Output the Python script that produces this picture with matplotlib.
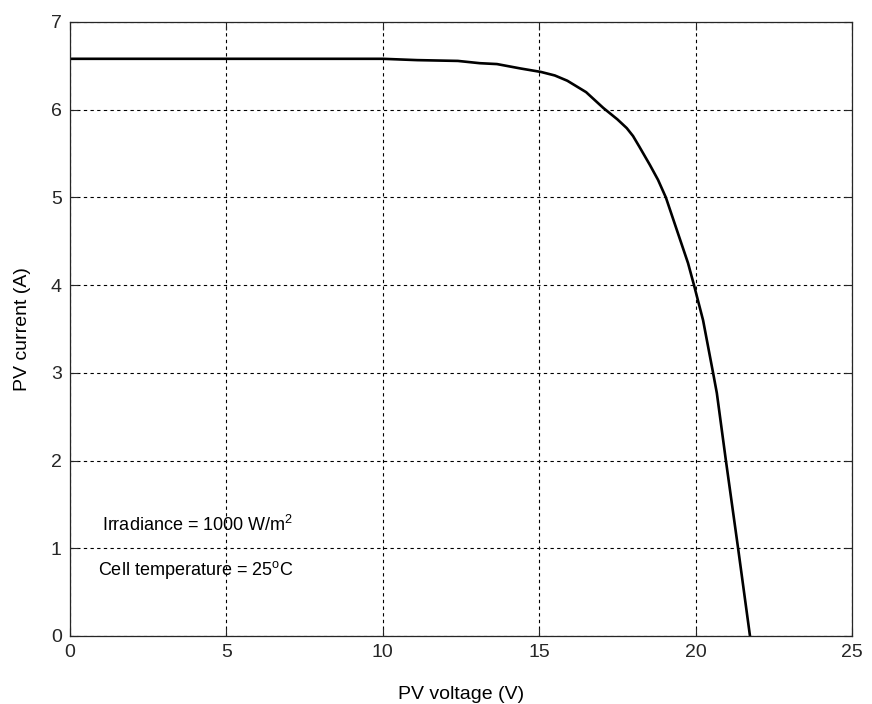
import matplotlib
matplotlib.use("Agg")
import matplotlib.pyplot as plt

# I-V curve
pv_voltage = [0, 5, 10, 11.1, 12.4, 13.1, 13.65, 14.4, 15.06, 15.5, 15.9, 16.5, 17.05,
              17.5, 17.8, 18.0, 18.2, 18.54, 18.8, 19.05, 19.4, 19.76, 19.95, 20.24,
              20.56, 20.68, 20.97, 21.36, 21.74]
pv_current = [6.58, 6.58, 6.58, 6.565, 6.556, 6.53, 6.52, 6.47, 6.43, 6.39, 6.33, 6.20, 6.02,
              5.89, 5.79, 5.70, 5.58, 5.37, 5.20, 5.0, 4.63, 4.25, 4.0, 3.60,
              3.0, 2.77, 2.0, 1.0, 0.0]

x_ticks = [0, 5, 10, 15, 20, 25]
y_ticks = [0, 1, 2, 3, 4, 5, 6, 7]

plt.rcParams['font.family'] = ['Liberation Sans', 'DejaVu Sans']

fig = plt.figure(figsize=(8.72, 7.04), dpi=100)
ax = fig.add_axes([0.0803, 0.0966, 0.8967, 0.8722])

ax.plot(pv_voltage, pv_current, color='black', linewidth=1.9)

ax.set_xlim(0, 25)
ax.set_ylim(0, 7)
ax.set_xticks(x_ticks)
ax.set_yticks(y_ticks)
ax.grid(True, color='black', linestyle=(0, (3, 3)), linewidth=0.8)
ax.tick_params(direction='in', length=6, top=True, right=True,
               labelsize=14, colors='#262626', pad=6)
for s in ax.spines.values():
    s.set_color('#262626')
    s.set_linewidth(0.9)

ax.set_xlabel('PV voltage (V)', fontsize=14, labelpad=18)
ax.set_ylabel('PV current (A)', fontsize=14, labelpad=14)

ax.text(1.02, 1.27, r'Irradiance = 1000 W/m$^{\mathregular{2}}$', fontsize=13,
        va='center', ha='left')
ax.text(0.9, 0.75, r'Cell temperature = 25$^{\mathregular{o}}$C', fontsize=13,
        va='center', ha='left')

fig.savefig('out.png', dpi=100, facecolor='white')
